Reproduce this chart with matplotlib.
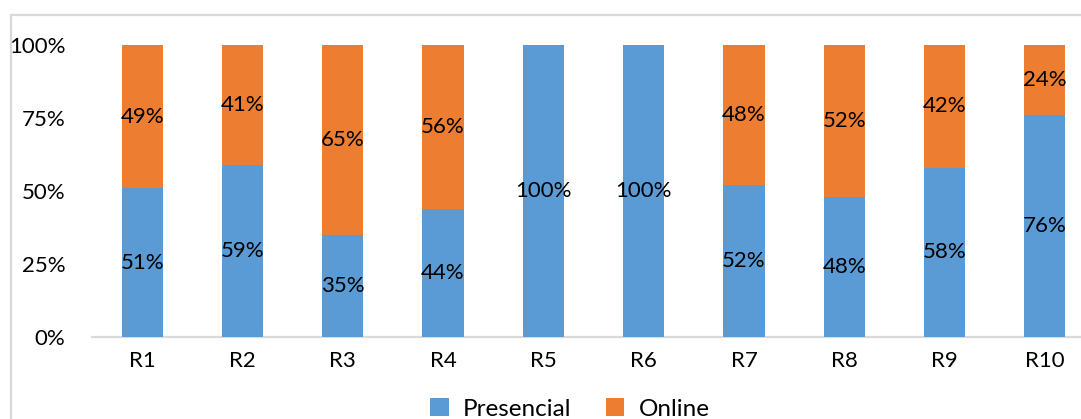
import matplotlib
matplotlib.use("Agg")
import matplotlib.pyplot as plt
from matplotlib.lines import Line2D
from matplotlib.patches import Patch
from matplotlib.ticker import FixedLocator

categories = ["R1", "R2", "R3", "R4", "R5", "R6", "R7", "R8", "R9", "R10"]
presencial = [51, 59, 35, 44, 100, 100, 52, 48, 58, 76]
online = [49, 41, 65, 56, 0, 0, 48, 52, 42, 24]
y_ticks = [0, 25, 50, 75, 100]
y_tick_labels = ["0%", "25%", "50%", "75%", "100%"]

BLUE = "#5B9BD5"
ORANGE = "#ED7D31"
GRID = "#D9D9D9"

plt.rcParams["font.family"] = ["Lato", "DejaVu Sans"]

W, H = 1081, 419
fig = plt.figure(figsize=(W / 100, H / 100), dpi=100)
fig.patch.set_facecolor("white")

# plot area: left edge at x=92px, unit width ~100.3px, baseline at y=337px, top at y=45px
ax = fig.add_axes([92 / W, (H - 337) / H, 1003 / W, 292 / H])

x = list(range(len(categories)))
bw = 0.41
ax.bar(x, presencial, width=bw, color=BLUE, zorder=2)
ax.bar(x, online, width=bw, bottom=presencial, color=ORANGE, zorder=2)

fs = 16
for xi, p, o in zip(x, presencial, online):
    if p > 0:
        ax.text(xi, p / 2, f"{p}%", ha="center", va="center", fontsize=fs, color="black", zorder=3)
    if o > 0:
        ax.text(xi, p + o / 2, f"{o}%", ha="center", va="center", fontsize=fs, color="black", zorder=3)

ax.set_xlim(-0.5, len(categories) - 0.5)
ax.set_ylim(0, 100)
ax.set_xticks(x)
ax.set_xticklabels(categories, fontsize=fs)
ax.yaxis.set_major_locator(FixedLocator(y_ticks))
ax.set_yticklabels(y_tick_labels, fontsize=fs)
ax.tick_params(axis="both", length=0)
ax.tick_params(axis="y", pad=19)
ax.tick_params(axis="x", pad=10)

for s in ["top", "right", "left"]:
    ax.spines[s].set_visible(False)
ax.spines["bottom"].set_color(GRID)
ax.spines["bottom"].set_linewidth(1.6)
ax.spines["bottom"].set_zorder(1)

# outer chart frame (top and left edges)
fig.add_artist(Line2D([11 / W, 1.0], [(H - 15) / H, (H - 15) / H], color=GRID, lw=1.6,
                      transform=fig.transFigure))
fig.add_artist(Line2D([11 / W, 11 / W], [0, (H - 15) / H], color=GRID, lw=1.6,
                      transform=fig.transFigure))

handles = [Patch(facecolor=BLUE, label="Presencial"), Patch(facecolor=ORANGE, label="Online")]
fig.legend(handles=handles, loc="center", bbox_to_anchor=(570 / W, 10 / H), ncol=2,
           frameon=False, fontsize=17.5, handlelength=0.75, handleheight=0.75,
           handletextpad=0.6, columnspacing=1.4, borderaxespad=0)

fig.savefig("out.png", dpi=100, facecolor="white")
